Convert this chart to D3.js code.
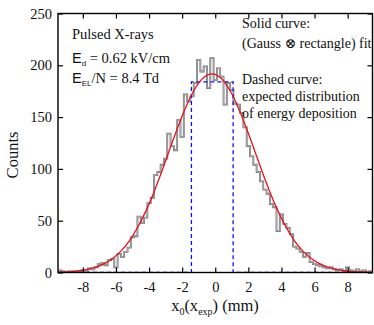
<!DOCTYPE html>
<html>
<head>
<meta charset="utf-8">
<script src="https://cdn.jsdelivr.net/npm/d3@7"></script>
<style>
  html, body { margin: 0; padding: 0; background: #fff; }
  svg text { font-family: "Liberation Serif", "DejaVu Serif", serif; fill: #111; }
</style>
</head>
<body>
<div id="chart"></div>
<script>
// histogram: 0.2 mm bins, centres from -9.4 to 9.4 mm
const binWidth = 0.2;
const binCenters = d3.range(95).map(i => +(-9.4 + i * binWidth).toFixed(1));
const binCounts = [
  2, 1, 0, 1, 1, 0, 1, 2, 1, 4,
  3, 5, 8, 9, 7, 12, 13, 5, 18, 15,
  20, 24, 34, 35, 54, 48, 53, 67, 72, 94,
  97, 104, 110, 134, 122, 118, 147, 131, 172, 165,
  170, 183, 205, 194, 199, 178, 207, 186, 197, 189,
  162, 183, 176, 163, 162, 154, 140, 122, 112, 104,
  97, 88, 80, 76, 66, 63, 40, 56, 47, 43,
  37, 25, 23, 20, 15, 19, 10, 8, 7, 6,
  5, 4, 5, 3, 2, 3, 1, 5, 2, 1,
  3, 1, 2, 0, 1
];

// fitted curve (Gauss x rectangle)
const fitX = [-9.7, -9.2, -8.7, -8.2, -7.7, -7.2, -6.7, -6.2, -5.7, -5.2,
  -4.7, -4.2, -3.7, -3.2, -2.7, -2.2, -1.7, -1.2, -0.7, -0.2,
  0.3, 0.8, 1.3, 1.8, 2.3, 2.8, 3.3, 3.8, 4.3, 4.8,
  5.3, 5.8, 6.3, 6.8, 7.3, 7.8, 8.3, 8.8, 9.3, 9.8];
const fitY = [0.25, 0.5, 0.9, 1.7, 3.0, 5.1, 8.5, 13.5, 20.6, 30.4,
  43.2, 59.0, 77.8, 98.9, 121.1, 142.9, 162.5, 178.1, 188.2, 191.7,
  188.2, 178.1, 162.5, 142.9, 121.1, 98.9, 77.8, 59.0, 43.2, 30.4,
  20.6, 13.5, 8.5, 5.1, 3.0, 1.7, 0.9, 0.5, 0.25, 0.1];

// expected distribution (dashed rectangle)
const rectX = [-9.5, -1.44, -1.44, 1.08, 1.08, 9.5];
const rectY = [0, 0, 184, 184, 0, 0];

const xTicks = [-8, -6, -4, -2, 0, 2, 4, 6, 8];
const yTicks = [0, 50, 100, 150, 200, 250];

const width = 374, height = 325;
const margin = {top: 13.5, right: 1.5, bottom: 52.5, left: 58};
const x = d3.scaleLinear().domain([-9.5, 9.5]).range([margin.left, width - margin.right]);
const y = d3.scaleLinear().domain([0, 250]).range([height - margin.bottom, margin.top]);

const svg = d3.select('#chart').append('svg')
  .attr('width', width)
  .attr('height', height);

svg.append('clipPath').attr('id', 'plotClip')
  .append('rect')
  .attr('x', x(-9.5)).attr('y', y(250))
  .attr('width', x(9.5) - x(-9.5)).attr('height', y(0) - y(250));

const plot = svg.append('g').attr('clip-path', 'url(#plotClip)');

// step histogram
const steps = [];
binCenters.forEach((c, i) => {
  steps.push([c - binWidth / 2, binCounts[i]]);
  steps.push([c + binWidth / 2, binCounts[i]]);
});
const stepLine = d3.line().x(d => x(d[0])).y(d => y(d[1]));
plot.append('path')
  .attr('d', stepLine(steps))
  .attr('fill', 'none')
  .attr('stroke', '#666')
  .attr('stroke-width', 1.8);
plot.append('path')
  .attr('d', stepLine(steps))
  .attr('fill', 'none')
  .attr('stroke', '#c8c8c8')
  .attr('stroke-width', 0.7);

// dashed expected distribution
plot.append('path')
  .attr('d', d3.line().x((d, i) => x(rectX[i])).y(d => y(d))(rectY))
  .attr('fill', 'none')
  .attr('stroke', '#1010ee')
  .attr('stroke-width', 1.3)
  .attr('stroke-dasharray', '4,3');

// fit curve
plot.append('path')
  .attr('d', d3.line().curve(d3.curveMonotoneX).x((d, i) => x(fitX[i])).y(d => y(d))(fitY))
  .attr('fill', 'none')
  .attr('stroke', '#e8101a')
  .attr('stroke-width', 1.3);

// axes with inward ticks on all four sides
const fmt = d => String(d);
svg.append('g')
  .attr('transform', `translate(0,${y(0)})`)
  .call(d3.axisBottom(x).tickValues(xTicks).tickSize(-5).tickSizeOuter(0).tickPadding(9).tickFormat(fmt))
  .call(g => g.select('.domain').remove());
svg.append('g')
  .attr('transform', `translate(0,${y(250)})`)
  .call(d3.axisTop(x).tickValues(xTicks).tickSize(-5).tickSizeOuter(0).tickFormat(''))
  .call(g => g.select('.domain').remove());
svg.append('g')
  .attr('transform', `translate(${x(-9.5)},0)`)
  .call(d3.axisLeft(y).tickValues(yTicks).tickSize(-5).tickSizeOuter(0).tickPadding(6).tickFormat(fmt))
  .call(g => g.select('.domain').remove());
svg.append('g')
  .attr('transform', `translate(${x(9.5)},0)`)
  .call(d3.axisRight(y).tickValues(yTicks).tickSize(-5).tickSizeOuter(0).tickFormat(''))
  .call(g => g.select('.domain').remove());

svg.selectAll('.tick line').attr('stroke', '#000').attr('stroke-width', 1.2);
svg.selectAll('.tick text')
  .style('font-family', '"Liberation Serif", serif')
  .style('font-size', '14.5px')
  .attr('fill', '#111');

svg.append('rect')
  .attr('x', x(-9.5)).attr('y', y(250))
  .attr('width', x(9.5) - x(-9.5)).attr('height', y(0) - y(250))
  .attr('fill', 'none')
  .attr('stroke', '#000')
  .attr('stroke-width', 1.4);

// axis titles
svg.append('text')
  .attr('transform', `translate(18,155) rotate(-90)`)
  .attr('text-anchor', 'middle')
  .style('font-size', '16.5px')
  .text('Counts');

const xt = svg.append('text')
  .attr('x', 215).attr('y', 311)
  .attr('text-anchor', 'middle')
  .style('font-size', '16.5px');
xt.append('tspan').text('x');
xt.append('tspan').attr('dy', 4).style('font-size', '10px').text('0');
xt.append('tspan').attr('dy', -4).text('(x');
xt.append('tspan').attr('dy', 4).style('font-size', '10px').text('exp');
xt.append('tspan').attr('dy', -4).text(') (mm)');

// annotations
const fs = '14.5px';
svg.append('text').attr('x', 72).attr('y', 39).style('font-size', fs).text('Pulsed X-rays');

const ed = svg.append('text').attr('x', 72).attr('y', 63).style('font-size', fs);
ed.append('tspan').style('font-family', '"Liberation Sans", sans-serif').text('E');
ed.append('tspan').attr('dy', 3).style('font-size', '8px').style('font-family', '"Liberation Sans", sans-serif').text('d');
ed.append('tspan').attr('dy', -3).text(' = 0.62 kV/cm');

const eel = svg.append('text').attr('x', 72).attr('y', 83).style('font-size', fs);
eel.append('tspan').style('font-family', '"Liberation Sans", sans-serif').text('E');
eel.append('tspan').attr('dy', 3).style('font-size', '8px').style('font-family', '"Liberation Sans", sans-serif').text('EL');
eel.append('tspan').attr('dy', -3).text('/N = 8.4 Td');

const notes = [
  ['Solid curve:', 28],
  ['(Gauss \u2297 rectangle) fit', 48],
  ['Dashed curve:', 84],
  ['expected distribution', 101],
  ['of energy deposition', 118]
];
svg.selectAll('.note')
  .data(notes)
  .enter().append('text')
  .attr('class', 'note')
  .attr('x', 242)
  .attr('y', d => d[1])
  .style('font-size', '14px')
  .text(d => d[0]);
</script>
</body>
</html>
